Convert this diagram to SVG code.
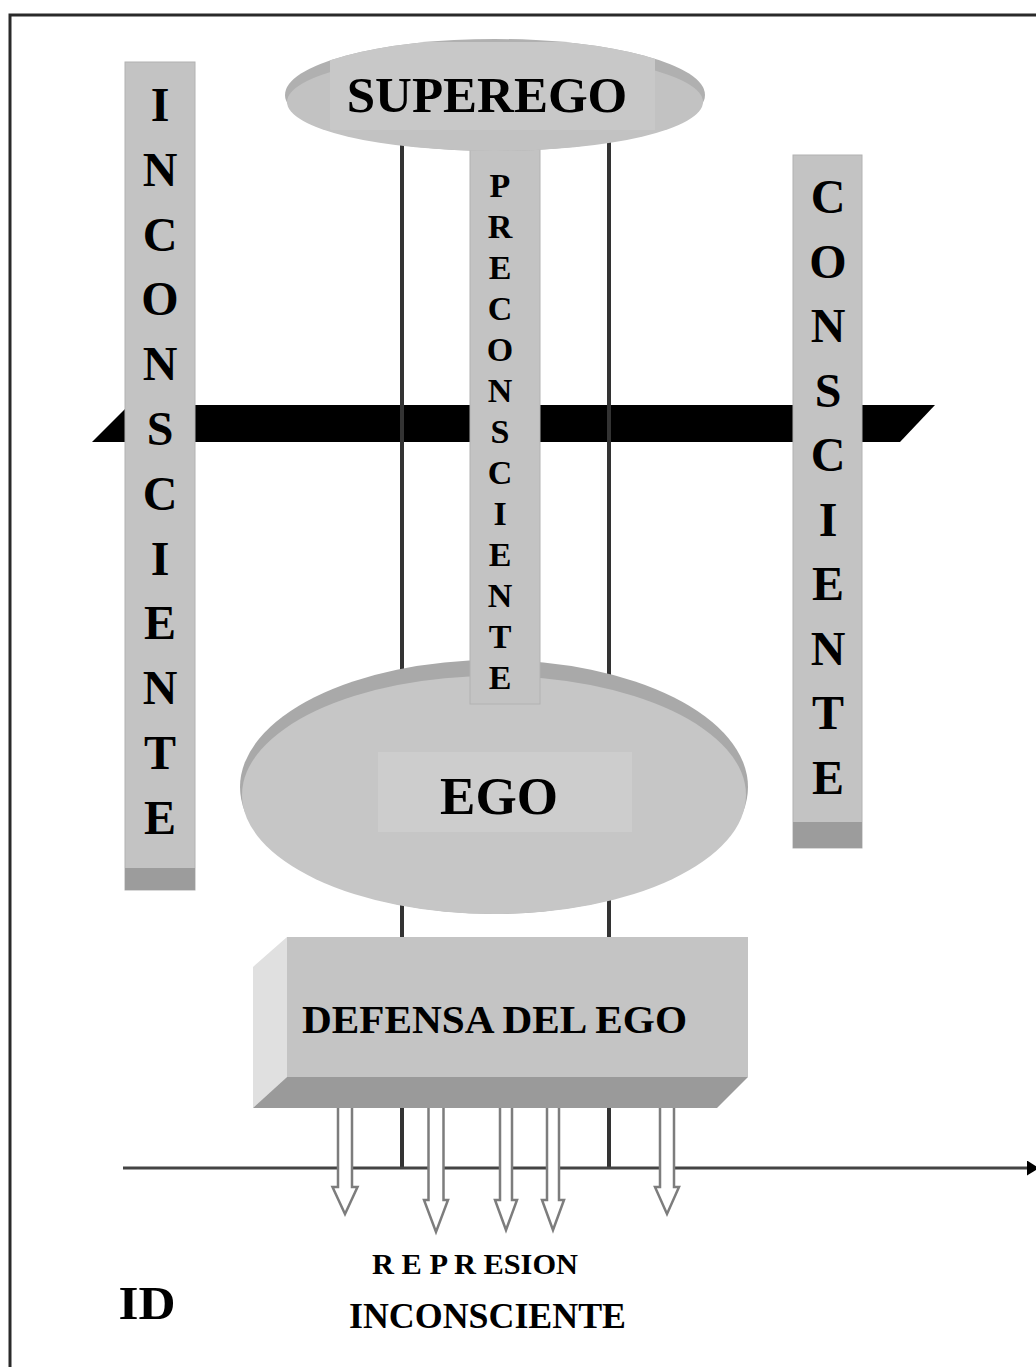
<svg xmlns="http://www.w3.org/2000/svg" width="1036" height="1367" viewBox="0 0 1036 1367">
<defs>
<style>
.t{font-family:"Liberation Serif","Times New Roman",serif;font-weight:bold;fill:#000;text-anchor:middle}
.big{font-size:48px}
.mid{font-size:34px}
.bar{fill:#c3c3c3;stroke:#b2b2b2;stroke-width:1}
.foot{fill:#9c9c9c}
.vline{stroke:#333;stroke-width:4;fill:none}
.arr{fill:#fff;stroke:#7d7d7d;stroke-width:2.5;stroke-linejoin:miter}
</style>
<marker id="endDot" markerWidth="4" markerHeight="5" refX="1" refY="2.5" orient="auto" markerUnits="strokeWidth">
<path d="M0,0 L4,2.5 L0,5 Z" fill="#000"/>
</marker>
<clipPath id="supClip"><ellipse cx="495" cy="95" rx="210" ry="56"/></clipPath>
</defs>
<rect width="1036" height="1367" fill="#fff"/>
<path d="M10,1367 V15 H1036" fill="none" stroke="#2a2a2a" stroke-width="3"/>

<g id="band">
<polygon points="92,442 129,405 935,405 900,442" fill="#000"/>
</g>

<g id="connectors">
<line class="vline" x1="402" y1="130" x2="402" y2="1168"/>
<line class="vline" x1="609" y1="130" x2="609" y2="1168"/>
<line x1="123" y1="1168" x2="1030" y2="1168" stroke="#444" stroke-width="3" marker-end="url(#endDot)"/>
</g>

<g id="inconsciente">
<rect class="bar" x="125" y="62" width="70" height="828"/>
<rect class="foot" x="125" y="868" width="70" height="22"/>
<text class="t big" x="160" y="121">I</text>
<text class="t big" x="160" y="186">N</text>
<text class="t big" x="160" y="251">C</text>
<text class="t big" x="160" y="315">O</text>
<text class="t big" x="160" y="380">N</text>
<text class="t big" x="160" y="445">S</text>
<text class="t big" x="160" y="510">C</text>
<text class="t big" x="160" y="575">I</text>
<text class="t big" x="160" y="639">E</text>
<text class="t big" x="160" y="704">N</text>
<text class="t big" x="160" y="769">T</text>
<text class="t big" x="160" y="834">E</text>
</g>

<g id="consciente">
<rect class="bar" x="793" y="155" width="69" height="693"/>
<rect class="foot" x="793" y="822" width="69" height="26"/>
<text class="t big" x="828" y="213">C</text>
<text class="t big" x="828" y="278">O</text>
<text class="t big" x="828" y="342">N</text>
<text class="t big" x="828" y="407">S</text>
<text class="t big" x="828" y="471">C</text>
<text class="t big" x="828" y="536">I</text>
<text class="t big" x="828" y="600">E</text>
<text class="t big" x="828" y="665">N</text>
<text class="t big" x="828" y="729">T</text>
<text class="t big" x="828" y="794">E</text>
</g>

<g id="ego">
<ellipse cx="494" cy="787" rx="254" ry="127" fill="#a9a9a9"/>
<ellipse cx="494" cy="795" rx="252" ry="119" fill="#c6c6c6"/>
<rect x="378" y="752" width="254" height="80" fill="#cdcdcd"/>
<text class="t" x="499" y="814" font-size="53">EGO</text>
</g>

<g id="preconsciente">
<rect class="bar" x="470" y="140" width="70" height="564"/>
<text class="t mid" x="500" y="197">P</text>
<text class="t mid" x="500" y="238">R</text>
<text class="t mid" x="500" y="279">E</text>
<text class="t mid" x="500" y="320">C</text>
<text class="t mid" x="500" y="361">O</text>
<text class="t mid" x="500" y="402">N</text>
<text class="t mid" x="500" y="443">S</text>
<text class="t mid" x="500" y="484">C</text>
<text class="t mid" x="500" y="525">I</text>
<text class="t mid" x="500" y="566">E</text>
<text class="t mid" x="500" y="607">N</text>
<text class="t mid" x="500" y="648">T</text>
<text class="t mid" x="500" y="689">E</text>
</g>

<g id="superego">
<ellipse cx="495" cy="95" rx="210" ry="56" fill="#b0b0b0"/>
<ellipse cx="495" cy="102" rx="208" ry="49" fill="#c2c2c2"/>
<rect x="330" y="42" width="325" height="88" fill="#c8c8c8" clip-path="url(#supClip)"/>
<text class="t" x="487" y="112" font-size="51">SUPEREGO</text>
</g>

<g id="arrows">
<path class="arr" d="M338,1100 V1187 H332.5 L345,1214 L357.5,1187 H352 V1100"/>
<path class="arr" d="M428.5,1100 V1200 H424 L436,1232 L448,1200 H443.5 V1100"/>
<path class="arr" d="M500,1100 V1200 H495 L506,1230 L517,1200 H512 V1100"/>
<path class="arr" d="M547,1100 V1200 H542 L553,1230 L564,1200 H559 V1100"/>
<path class="arr" d="M660,1100 V1187 H655 L667,1214 L679,1187 H674 V1100"/>
</g>

<g id="defensa">
<polygon points="253,967 287,937 287,1077 253,1108" fill="#e0e0e0"/>
<rect x="287" y="937" width="461" height="140" fill="#c4c4c4"/>
<polygon points="287,1077 748,1077 717,1108 253,1108" fill="#9a9a9a"/>
<text class="t" x="494.5" y="1033" font-size="40" textLength="385" lengthAdjust="spacingAndGlyphs">DEFENSA DEL EGO</text>
</g>

<g id="labels">
<text class="t" x="475" y="1274" font-size="29" textLength="206" lengthAdjust="spacingAndGlyphs">R E P R ESION</text>
<text class="t" x="487.5" y="1328" font-size="36" textLength="277" lengthAdjust="spacingAndGlyphs">INCONSCIENTE</text>
<text class="t" x="147" y="1319" font-size="46" textLength="57" lengthAdjust="spacingAndGlyphs">ID</text>
</g>
</svg>
